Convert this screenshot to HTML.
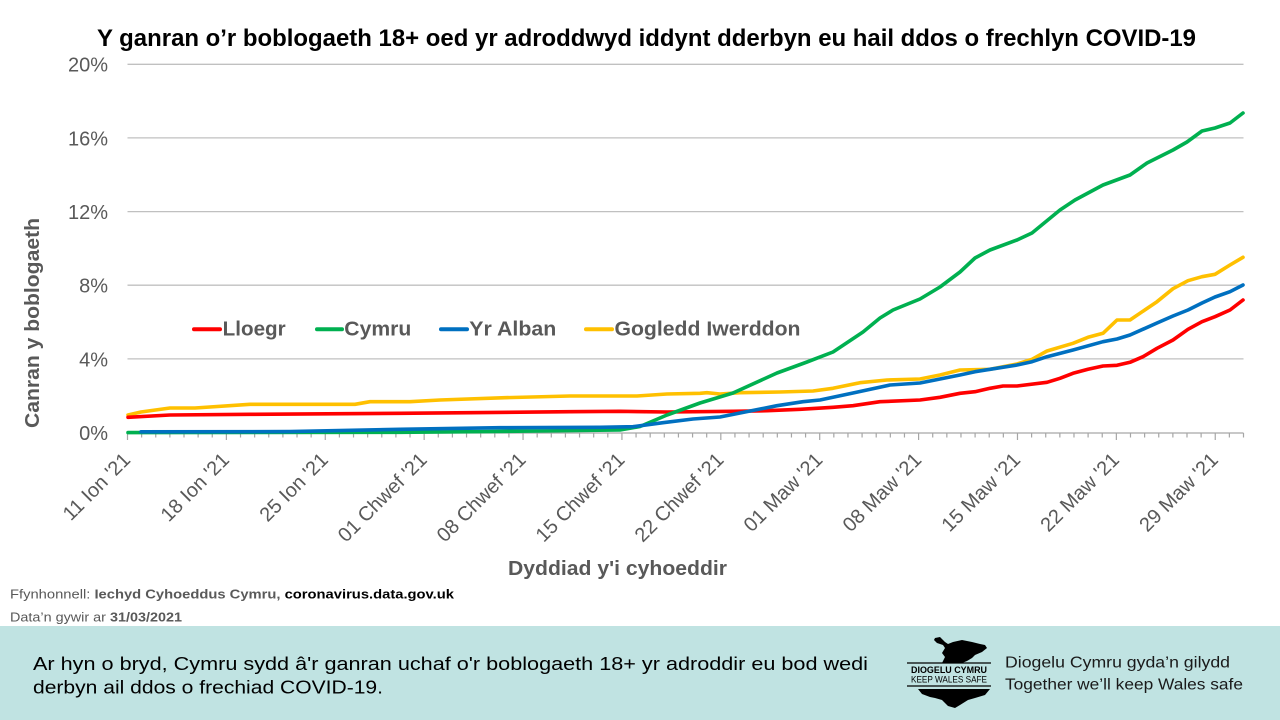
<!DOCTYPE html>
<html><head><meta charset="utf-8"><style>
html,body{margin:0;padding:0;background:#fff;}
svg{display:block;}
text{font-family:"Liberation Sans",Arial,sans-serif;}
</style></head><body>
<svg width="1280" height="720" viewBox="0 0 1280 720" xmlns="http://www.w3.org/2000/svg">
<rect x="0" y="0" width="1280" height="720" fill="#fff"/>
<!-- title -->
<text x="97" y="46" font-size="24" font-weight="bold" fill="#000" textLength="1099" lengthAdjust="spacingAndGlyphs">Y ganran o’r boblogaeth 18+ oed yr adroddwyd iddynt dderbyn eu hail ddos o frechlyn COVID-19</text>

<!-- gridlines -->
<g stroke="#c0c0c0" stroke-width="1.3">
<line x1="127.5" y1="64.3" x2="1243.5" y2="64.3"/>
<line x1="127.5" y1="137.9" x2="1243.5" y2="137.9"/>
<line x1="127.5" y1="211.6" x2="1243.5" y2="211.6"/>
<line x1="127.5" y1="285.2" x2="1243.5" y2="285.2"/>
<line x1="127.5" y1="358.9" x2="1243.5" y2="358.9"/>
</g>
<!-- y labels -->
<g font-size="20" fill="#595959" text-anchor="end">
<text x="108" y="71.7">20%</text>
<text x="108" y="145.3">16%</text>
<text x="108" y="219">12%</text>
<text x="108" y="292.6">8%</text>
<text x="108" y="366.3">4%</text>
<text x="108" y="439.9">0%</text>
</g>
<!-- y title -->
<text transform="translate(39,323) rotate(-90)" text-anchor="middle" font-size="20" font-weight="bold" fill="#595959" textLength="210" lengthAdjust="spacingAndGlyphs">Canran y boblogaeth</text>

<!-- x axis -->
<line x1="127.5" y1="433" x2="1243.5" y2="433" stroke="#a6a6a6" stroke-width="1.3"/>
<g id="ticks" stroke="#a6a6a6" stroke-width="1.2"></g>

<!-- x labels -->
<g font-size="20" fill="#595959" text-anchor="end" id="xlabels"></g>

<!-- series -->
<g fill="none" stroke-width="3.6" stroke-linejoin="round" stroke-linecap="round">
<polyline stroke="#ffc000" points="128,415 141,412 170,408 195,408 250,404.3 355,404.3 370,401.7 410,401.7 440,400 505,397.7 570,396 637,396 667,394 700,393.3 707,392.7 720,394 740,392.7 780,392 813,391 833,388.3 860,382.7 887,380 920,379 940,375 960,370 990,369.3 1017,364 1032,359.3 1047,351 1073,343.3 1088,337.3 1103,333.3 1117,320 1130,320 1157,301.7 1173,288.7 1188,280.7 1202,276.7 1215,274.3 1230,265 1243,257.3"/>
<polyline stroke="#ff0000" points="128,417.3 170,415 250,414.3 400,413.3 470,412.7 570,411.7 620,411.3 667,412 733,411.3 767,410.7 800,409.3 833,407.3 853,405.7 880,401.7 920,400 940,397.3 960,393.3 975,391.7 990,388.3 1003,386 1017,386 1047,382.3 1060,378.3 1073,373.3 1088,369.3 1103,366 1117,365.3 1130,362.3 1143,356.7 1157,348.3 1173,340 1188,329.3 1202,321.7 1215,316.7 1230,310 1243,300"/>
<polyline stroke="#00b050" points="128,432.6 400,432.3 537,431 620,430 640,426.5 667,415 700,403 733,393 777,373 807,362 833,352 863,332 880,318 893,310 920,299 940,287 960,272 975,258 990,250 1017,240 1032,233 1060,210 1075,200 1103,185 1130,175 1147,163 1173,150 1187,142 1202,131 1215,128 1230,123 1243,113"/>
<polyline stroke="#0070c0" points="141,431.8 290,431.6 400,429.3 500,427.7 600,427.3 633,426.7 663,422.7 693,419 720,417 740,413 777,405.7 803,401.7 820,400 853,393 890,385 920,383 940,379 960,375 975,371.7 1017,365 1032,361.7 1047,356.7 1073,350 1103,341.7 1117,339 1130,335 1157,323 1173,316 1188,310 1202,303 1215,297 1230,291.7 1243,285"/>
</g>

<!-- legend -->
<g stroke-width="4" stroke-linecap="round">
<line x1="194" y1="329.3" x2="220" y2="329.3" stroke="#ff0000"/>
<line x1="317" y1="329.3" x2="342" y2="329.3" stroke="#00b050"/>
<line x1="441" y1="329.3" x2="467" y2="329.3" stroke="#0070c0"/>
<line x1="586" y1="329.3" x2="612" y2="329.3" stroke="#ffc000"/>
</g>
<g font-size="20" font-weight="bold" fill="#595959">
<text x="222.7" y="335.7" textLength="63" lengthAdjust="spacingAndGlyphs">Lloegr</text>
<text x="344.3" y="335.7" textLength="67" lengthAdjust="spacingAndGlyphs">Cymru</text>
<text x="469.3" y="335.7" textLength="87" lengthAdjust="spacingAndGlyphs">Yr Alban</text>
<text x="614.5" y="335.7" textLength="186" lengthAdjust="spacingAndGlyphs">Gogledd Iwerddon</text>
</g>

<!-- x title -->
<text x="617.5" y="575" text-anchor="middle" font-size="20" font-weight="bold" fill="#595959" textLength="219" lengthAdjust="spacingAndGlyphs">Dyddiad y'i cyhoeddir</text>

<!-- source -->
<text x="10" y="598.5" font-size="12.5" fill="#595959" textLength="444" lengthAdjust="spacingAndGlyphs">Ffynhonnell: <tspan font-weight="bold">Iechyd Cyhoeddus Cymru, </tspan><tspan font-weight="bold" fill="#000">coronavirus.data.gov.uk</tspan></text>
<text x="10" y="621.5" font-size="12.5" fill="#595959" textLength="172" lengthAdjust="spacingAndGlyphs">Data’n gywir ar <tspan font-weight="bold">31/03/2021</tspan></text>

<!-- footer -->
<rect x="0" y="626" width="1280" height="94" fill="#c0e3e2"/>
<text x="33" y="670" font-size="18" fill="#000" textLength="835" lengthAdjust="spacingAndGlyphs">Ar hyn o bryd, Cymru sydd â'r ganran uchaf o'r boblogaeth 18+ yr adroddir eu bod wedi</text>
<text x="33" y="693.3" font-size="18" fill="#000" textLength="350" lengthAdjust="spacingAndGlyphs">derbyn ail ddos o frechiad COVID-19.</text>

<!-- logo -->
<polygon fill="#000" points="935,638 940,637 945,642 948,644 953,642 962,640 972,642 980,644 985,645 987,648 982,652 975,655 972,658 967,661 962,663 942,663 945,657 942,653 945,648 943,645 937,643 934,640"/>
<line x1="907" y1="663" x2="991" y2="663" stroke="#000" stroke-width="1.2"/>
<line x1="907" y1="686" x2="991" y2="686" stroke="#000" stroke-width="1.2"/>
<text x="949" y="673" font-size="9" font-weight="bold" text-anchor="middle" fill="#000" textLength="76" lengthAdjust="spacingAndGlyphs">DIOGELU CYMRU</text>
<text x="949" y="682.5" font-size="9" text-anchor="middle" fill="#000" textLength="76" lengthAdjust="spacingAndGlyphs">KEEP WALES SAFE</text>
<polygon fill="#000" points="918,689 990,689 985,695 975,698 968,700 960,705 955,708 948,706 942,700 935,698 930,697 922,694"/>
<text x="1005" y="667.5" font-size="15.5" fill="#1a1a1a" textLength="225" lengthAdjust="spacingAndGlyphs">Diogelu Cymru gyda’n gilydd</text>
<text x="1005" y="689.5" font-size="15.5" fill="#1a1a1a" textLength="238" lengthAdjust="spacingAndGlyphs">Together we’ll keep Wales safe</text>
</svg>
<script>
(function(){
var ns="http://www.w3.org/2000/svg";
var g=document.getElementById("ticks");
var sp=(1243.5-127.5)/79;
for(var i=0;i<=79;i++){
 var x=127.5+i*sp;
 var l=document.createElementNS(ns,"line");
 l.setAttribute("x1",x);l.setAttribute("x2",x);
 l.setAttribute("y1",433);l.setAttribute("y2",(i%7==0)?440:437.5);
 g.appendChild(l);
}
var labs=["11 Ion '21","18 Ion '21","25 Ion '21","01 Chwef '21","08 Chwef '21","15 Chwef '21","22 Chwef '21","01 Maw '21","08 Maw '21","15 Maw '21","22 Maw '21","29 Maw '21"];
var xg=document.getElementById("xlabels");
for(var k=0;k<labs.length;k++){
 var tx=127.5+k*7*sp+4, ty=461;
 var t=document.createElementNS(ns,"text");
 t.setAttribute("x",tx);t.setAttribute("y",ty);
 t.setAttribute("transform","rotate(-45 "+tx+" "+ty+")");
 t.textContent=labs[k];
 xg.appendChild(t);
}
})();
</script>
</body></html>
